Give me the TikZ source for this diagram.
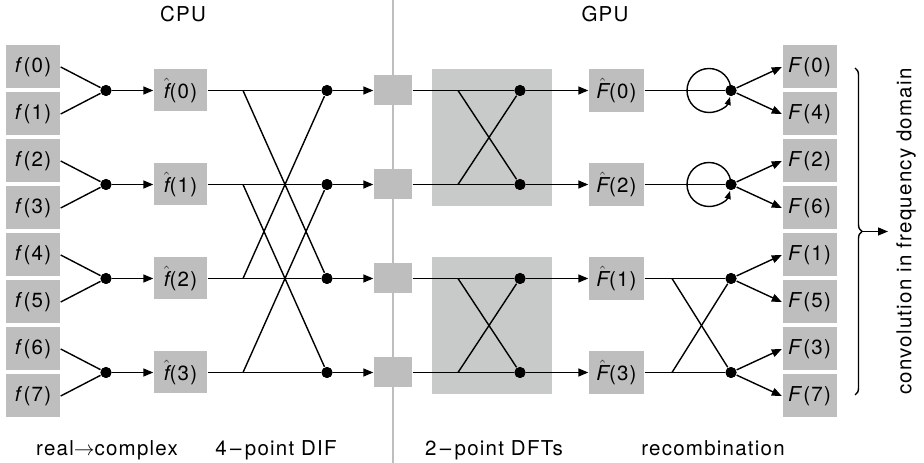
\documentclass[tikz,border=0pt]{standalone}
\usepackage{fontspec}
\setmainfont{TeX Gyre Heros}[LetterSpace=6]
\usetikzlibrary{arrows.meta,decorations.pathreplacing}
\definecolor{boxgray}{RGB}{190,190,190}
\definecolor{dftgray}{RGB}{200,201,201}
\definecolor{linegray}{RGB}{190,190,190}
\tikzset{
  box/.style={fill=boxgray, minimum width=54pt, minimum height=43pt, inner sep=0pt},
  hbox/.style={fill=boxgray, minimum width=53pt, minimum height=42pt, inner sep=0pt},
  sq/.style={fill=boxgray, minimum width=38pt, minimum height=30pt, inner sep=0pt},
  dotn/.style={circle, fill=black, minimum size=11pt, inner sep=0pt},
  arr/.style={-{Triangle[length=10pt,width=8pt]}},
  lbl/.style={anchor=base, inner sep=0pt}
}
\newcommand{\hatit}[1]{$\hat{\textit{#1}}$}
\begin{document}
\begin{tikzpicture}[x=1pt,y=1pt, line width=1.4pt, font=\fontsize{20.5}{24}\selectfont]
\useasboundingbox (0,0) rectangle (924,463);
% CPU / GPU divider
\draw[linegray, line width=1.5pt] (393,0) -- (393,463);
% 2-point DFT background boxes
\fill[dftgray] (432,257) rectangle (552,394);
\fill[dftgray] (432,69) rectangle (552,206);
% input boxes
\foreach \i in {0,...,7}{
  \node[box] (f\i) at (33,{396-47*\i}) {\textit{f}(\i)};
}
% output boxes
\foreach \i/\l in {0/0,1/4,2/2,3/6,4/1,5/5,6/3,7/7}{
  \node[box] (F\i) at (809.5,{396-47*\i}) {\textit{F}(\l)};
}
% per-row nodes
\foreach \k/\r/\h in {0/372.5/0,1/278.5/2,2/184.5/1,3/90.5/3}{
  \node[hbox] (fh\k) at (180.5,\r) {\hatit{f}(\k)};
  \node[sq] (sq\k) at (393,\r) {};
  \node[hbox, minimum width=55pt, minimum height=43pt] (Fh\k) at (616.5,\r) {\hatit{F}(\h)};
  \node[dotn] (a\k) at (106,\r) {};
  \node[dotn] (b\k) at (327,\r) {};
  \node[dotn] (c\k) at (520,\r) {};
  \node[dotn] (d\k) at (731,\r) {};
  \coordinate (p\k) at (243,\r);
  \coordinate (q\k) at (458,\r);
  \coordinate (s\k) at (672,\r);
}
% real -> complex
\foreach \k/\u/\v in {0/0/1,1/2/3,2/4/5,3/6/7}{
  \draw (f\u.east) -- (a\k);
  \draw (f\v.east) -- (a\k);
  \draw[arr] (a\k) -- (fh\k.west);
}
% 4-point DIF
\foreach \k in {0,1,2,3}{
  \draw (fh\k.east) -- (b\k);
  \draw[arr] (b\k) -- (sq\k.west);
}
\draw (p0) -- (b2); \draw (p2) -- (b0);
\draw (p1) -- (b3); \draw (p3) -- (b1);
% 2-point DFTs
\foreach \k in {0,1,2,3}{
  \draw (sq\k.east) -- (c\k);
  \draw[arr] (c\k) -- (Fh\k.west);
  \draw (Fh\k.east) -- (d\k);
}
\draw (q0) -- (c1); \draw (q1) -- (c0);
\draw (q2) -- (c3); \draw (q3) -- (c2);
% recombination
\foreach \k in {0,1}{
  \draw[-{Triangle[length=8pt,width=6pt]}] (d\k.center) arc[start angle=0, end angle=343, radius=22pt];
}
\draw (s2) -- (d3); \draw (s3) -- (d2);
\foreach \k/\u/\v in {0/0/1,1/2/3,2/4/5,3/6/7}{
  \draw[arr] (d\k) -- (F\u.west);
  \draw[arr] (d\k) -- (F\v.west);
}
% dots on top
\foreach \k/\r in {0/372.5,1/278.5,2/184.5,3/90.5}{
  \fill (106,\r) circle[radius=5.5pt];
  \fill (327,\r) circle[radius=5.5pt];
  \fill (520,\r) circle[radius=5.5pt];
  \fill (731,\r) circle[radius=5.5pt];
}
% brace and result
\coordinate (bt) at (862,231.5);
\coordinate (be) at (888,231.5);
\draw[decorate, decoration={brace, amplitude=7pt}] (855,395) -- (855,68);
\draw[arr] (bt) -- (be);
\node[rotate=90, inner sep=0pt] (conv) at (906,231.5) {convolution in frequency domain};
% labels
\node[lbl] (cpu) at (183,441) {CPU};
\node[lbl] (gpu) at (605,441) {GPU};
\node[lbl] (l1) at (107,7) {real${\rightarrow}$complex};
\node[lbl] (l2) at (276,7) {4\,--\,point DIF};
\node[lbl] (l3) at (494,7) {2\,--\,point DFTs};
\node[lbl] (l4) at (713,7) {recombination};
\end{tikzpicture}
\end{document}
